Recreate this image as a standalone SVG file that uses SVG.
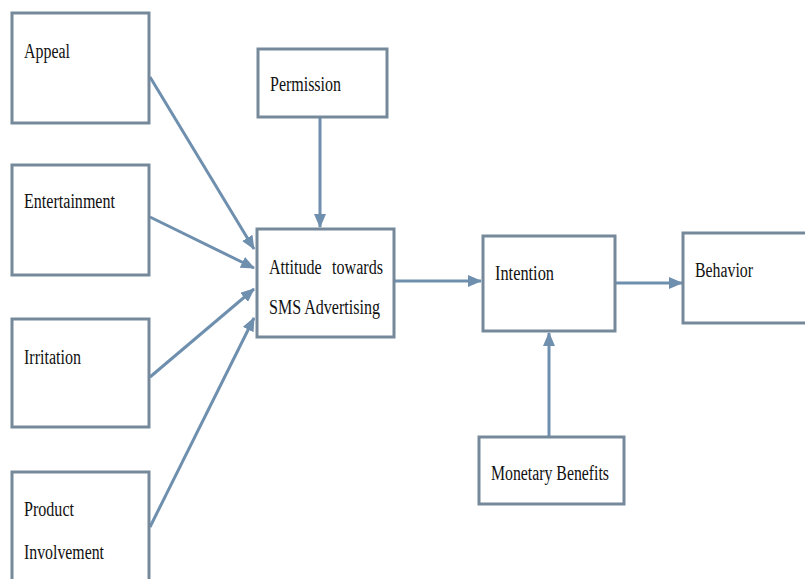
<svg xmlns="http://www.w3.org/2000/svg" width="805" height="579" viewBox="0 0 805 579">
<defs>
<marker id="ah" markerWidth="14" markerHeight="12" refX="13" refY="6" orient="auto" markerUnits="userSpaceOnUse">
<path d="M0,0 L14,6 L0,12 Z" fill="#6f8fae"/>
</marker>
<style>
.box{fill:#fff;stroke:#76899a;stroke-width:3}
.lbl{font-family:"Liberation Serif","Times New Roman",serif;font-size:20px;fill:#111}
.con{stroke:#6f8fae;stroke-width:3;fill:none;marker-end:url(#ah)}
</style>
</defs>
<rect width="805" height="579" fill="#fff"/>
<g id="connectors">
<line class="con" x1="150" y1="77" x2="254" y2="249"/>
<line class="con" x1="150" y1="217" x2="254" y2="268"/>
<line class="con" x1="150" y1="377" x2="254" y2="289"/>
<line class="con" x1="150" y1="527" x2="254" y2="318"/>
<line class="con" x1="320" y1="117" x2="320" y2="227"/>
<line class="con" x1="394" y1="281" x2="481" y2="281"/>
<line class="con" x1="616" y1="283" x2="682" y2="283"/>
<line class="con" x1="549" y1="437" x2="549" y2="333"/>
</g>
<g id="appeal"><rect class="box" x="12" y="13" width="137" height="110"/><text class="lbl" x="24" y="58" textLength="46" lengthAdjust="spacingAndGlyphs">Appeal</text></g>
<g id="entertainment"><rect class="box" x="12" y="165" width="137" height="110"/><text class="lbl" x="24" y="208" textLength="91" lengthAdjust="spacingAndGlyphs">Entertainment</text></g>
<g id="irritation"><rect class="box" x="12" y="319" width="137" height="108"/><text class="lbl" x="24" y="364" textLength="57" lengthAdjust="spacingAndGlyphs">Irritation</text></g>
<g id="product"><rect class="box" x="12" y="472" width="137" height="112"/><text class="lbl" x="24" y="516" textLength="50" lengthAdjust="spacingAndGlyphs">Product</text><text class="lbl" x="24" y="559" textLength="80" lengthAdjust="spacingAndGlyphs">Involvement</text></g>
<g id="permission"><rect class="box" x="258" y="49" width="129" height="68"/><text class="lbl" x="270" y="91" textLength="71" lengthAdjust="spacingAndGlyphs">Permission</text></g>
<g id="attitude"><rect class="box" x="257" y="229" width="137" height="108"/><text class="lbl" x="269" y="274" textLength="114" lengthAdjust="spacingAndGlyphs" style="word-spacing:8px">Attitude towards</text><text class="lbl" x="269" y="314" textLength="111" lengthAdjust="spacingAndGlyphs">SMS Advertising</text></g>
<g id="intention"><rect class="box" x="483" y="236" width="132" height="95"/><text class="lbl" x="495" y="280" textLength="59" lengthAdjust="spacingAndGlyphs">Intention</text></g>
<g id="behavior"><rect class="box" x="683" y="233" width="130" height="90"/><text class="lbl" x="695" y="277" textLength="58" lengthAdjust="spacingAndGlyphs">Behavior</text></g>
<g id="monetary"><rect class="box" x="479" y="437" width="145" height="67"/><text class="lbl" x="491" y="480" textLength="118" lengthAdjust="spacingAndGlyphs">Monetary Benefits</text></g>
</svg>
